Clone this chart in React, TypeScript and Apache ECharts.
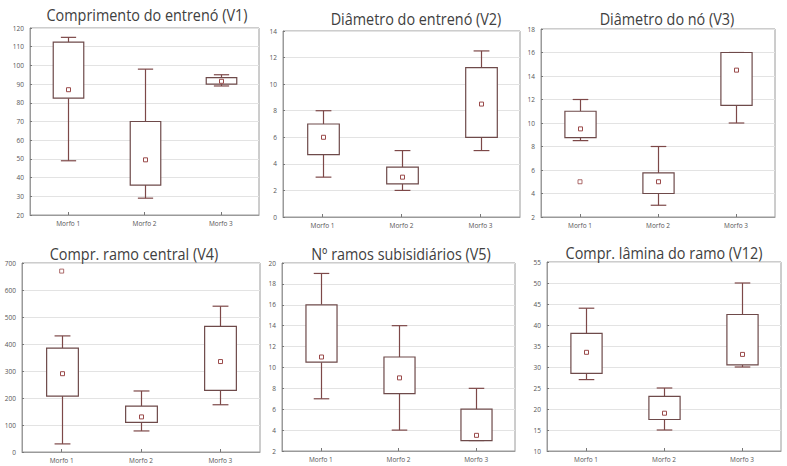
import React, { useEffect, useRef } from "react";
import * as echarts from "echarts";

const categories = ["Morfo 1", "Morfo 2", "Morfo 3"];

// [lower whisker, Q1, median, Q3, upper whisker]
const v1 = [[49, 82.5, 87, 112.5, 115], [29, 36, 49.5, 70, 98], [89, 90, 91.5, 93.5, 95]];
const v2 = [[3, 4.7, 6, 7, 8], [2, 2.5, 3, 3.75, 5], [5, 6, 8.5, 11.25, 12.5]];
const v3 = [[8.5, 8.75, 9.5, 11, 12], [3, 4, 5, 5.75, 8], [10, 11.5, 14.5, 16, 16]];
const v4 = [[30, 207, 290, 385, 430], [78, 110, 130, 170, 226], [175, 228, 335, 465, 540]];
const v5 = [[7, 10.5, 11, 16, 19], [4, 7.5, 9, 11, 14], [3, 3, 3.5, 6, 8]];
const v12 = [[27, 28.5, 33.5, 38, 44], [15, 17.5, 19, 23, 25], [30, 30.5, 33, 42.5, 50]];

const v3Outliers = [[0, 5]];
const v4Outliers = [[0, 670]];

const titles = [
  "Comprimento do entrenó (V1)",
  "Diâmetro do entrenó (V2)",
  "Diâmetro do nó (V3)",
  "Compr. ramo central (V4)",
  "Nº ramos subisidiários (V5)",
  "Compr. lâmina do ramo (V12)",
];

const yMins = [20, 0, 2, 0, 2, 10];
const yMaxs = [120, 14, 18, 700, 20, 55];
const yIntervals = [10, 2, 2, 100, 2, 5];

const panelData = [v1, v2, v3, v4, v5, v12];
const panelOutliers = [[], [], v3Outliers, v4Outliers, [], []];

const grids = [
  { left: 30, top: 28, width: 229, height: 187 },
  { left: 283, top: 31, width: 237, height: 186 },
  { left: 541, top: 29, width: 234, height: 188 },
  { left: 22, top: 263, width: 238, height: 189 },
  { left: 282, top: 263, width: 233, height: 188 },
  { left: 547, top: 262, width: 234, height: 189 },
];
const titlePos = [
  { x: 147, y: 15 },
  { x: 416, y: 19 },
  { x: 667, y: 19 },
  { x: 134, y: 254 },
  { x: 401, y: 254 },
  { x: 664, y: 253 },
];

const LINE = "#7d4848";
const BOX = "#6e4a4a";
const MARK = "#9a4a4a";

function renderBox(params: any, api: any) {
  const xi = api.value(0);
  const lo = api.coord([xi, api.value(1)]);
  const q1 = api.coord([xi, api.value(2)]);
  const md = api.coord([xi, api.value(3)]);
  const q3 = api.coord([xi, api.value(4)]);
  const hi = api.coord([xi, api.value(5)]);
  const bw = api.size([1, 0])[0] * 0.4;
  const cw = bw * 0.5;
  const x = Math.round(lo[0]) + 0.5;
  const lineStyle = { stroke: LINE, lineWidth: 1.2, fill: null };
  const children: any[] = [
    { type: "line", shape: { x1: x, y1: hi[1], x2: x, y2: q3[1] }, style: lineStyle },
    { type: "line", shape: { x1: x - cw / 2, y1: hi[1], x2: x + cw / 2, y2: hi[1] }, style: lineStyle },
    { type: "line", shape: { x1: x, y1: q1[1], x2: x, y2: lo[1] }, style: lineStyle },
    { type: "line", shape: { x1: x - cw / 2, y1: lo[1], x2: x + cw / 2, y2: lo[1] }, style: lineStyle },
    {
      type: "rect",
      shape: { x: x - bw / 2, y: q3[1], width: bw, height: q1[1] - q3[1] },
      style: { stroke: BOX, lineWidth: 1.2, fill: "#ffffff" },
    },
    {
      type: "rect",
      shape: { x: x - 2, y: md[1] - 2, width: 4, height: 4 },
      style: { stroke: MARK, lineWidth: 1, fill: "#ffffff" },
    },
  ];
  return { type: "group", children };
}

export default function App() {
  const ref = useRef<HTMLDivElement>(null);
  useEffect(() => {
    if (!ref.current) return;
    const chart = echarts.init(ref.current, null, { renderer: "svg" });
    const option: any = {
      animation: false,
      backgroundColor: "#ffffff",
      graphic: titles.map((t, i) => ({
        type: "text",
        x: titlePos[i].x,
        y: titlePos[i].y,
        scaleX: 0.9,
        z: 10,
        style: {
          text: t,
          fontFamily: "Open Sans",
          fontSize: 16,
          fill: "#404040",
          align: "center",
          verticalAlign: "middle",
        },
      })),
      grid: grids.map((g) => ({
        ...g,
        show: true,
        borderColor: "#9a9a9a",
        borderWidth: 1,
        backgroundColor: "transparent",
      })),
      xAxis: grids.map((_, i) => ({
        type: "category",
        gridIndex: i,
        data: categories,
        boundaryGap: true,
        axisLine: { show: true, lineStyle: { color: "#9a9a9a" } },
        axisTick: { show: true, inside: true, length: 3, alignWithLabel: true, lineStyle: { color: "#777" } },
        axisLabel: { fontSize: 6.5, color: "#555", margin: 5, fontFamily: "Open Sans" },
        splitLine: { show: false },
      })),
      yAxis: grids.map((_, i) => ({
        type: "value",
        gridIndex: i,
        min: yMins[i],
        max: yMaxs[i],
        interval: yIntervals[i],
        axisLine: { show: true, lineStyle: { color: "#9a9a9a" } },
        axisTick: { show: true, inside: true, length: 2, lineStyle: { color: "#777" } },
        axisLabel: { fontSize: 6.5, color: "#555", margin: 6, fontFamily: "Open Sans" },
        splitLine: { show: true, lineStyle: { color: "#e3e3e3", width: 1 } },
      })),
      series: [
        ...panelData.map((d, i) => ({
          type: "custom",
          xAxisIndex: i,
          yAxisIndex: i,
          renderItem: renderBox,
          data: d.map((row, k) => [k, ...row]),
          encode: { x: 0, y: [1, 2, 3, 4, 5] },
          z: 3,
        })),
        ...panelOutliers.map((o, i) => ({
          type: "scatter",
          xAxisIndex: i,
          yAxisIndex: i,
          symbol: "rect",
          symbolSize: 4,
          itemStyle: { color: "#ffffff", borderColor: MARK, borderWidth: 1 },
          data: o,
          z: 4,
        })),
      ],
    };
    chart.setOption(option);
    return () => chart.dispose();
  }, []);
  return (
    <div
      ref={ref}
      style={{ position: "fixed", left: 0, top: 0, width: 787, height: 466, background: "#fff" }}
    />
  );
}
